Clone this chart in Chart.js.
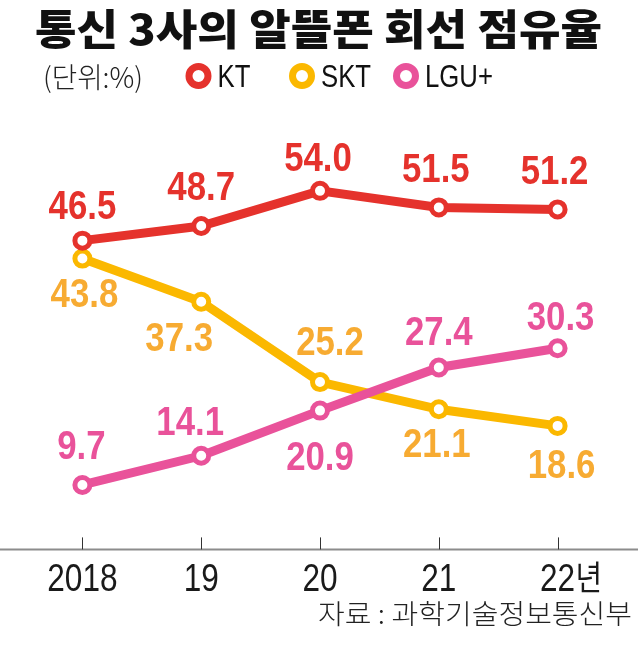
<!DOCTYPE html>
<html>
<head>
<meta charset="utf-8">
<script src="https://cdn.jsdelivr.net/npm/chart.js@4"></script>
<style>
  html, body { margin: 0; padding: 0; background: #fff; }
  #wrap { width: 638px; height: 646px; position: relative; }
</style>
</head>
<body>
<div id="wrap"><canvas id="myChart"></canvas></div>
<script>
// 데이터
const years = ['2018', '19', '20', '21', '22년']
const ktShare = [46.5, 48.7, 54.0, 51.5, 51.2]
const sktShare = [43.8, 37.3, 25.2, 21.1, 18.6]
const lguShare = [9.7, 14.1, 20.9, 27.4, 30.3]

const titleText = '통신 3사의 알뜰폰 회선 점유율'
const unitText = '(단위:%)'
const sourceText = '자료 : 과학기술정보통신부'

const RED = '#e5322c'
const YELLOW = '#fbb800'
const YELLOW_TXT = '#f7ab32'
const PINK = '#e9529a'

const SANS = "'Liberation Sans', Arial, sans-serif"
const KOR = "'Noto Sans CJK KR', 'Noto Sans', sans-serif"

// 값 라벨 위치 (점 중심 기준 오프셋)
const labelOffsets = [
    [[0, -36], [0, -40], [-2, -34], [-3, -39], [-3, -39]],
    [[2, 34], [-22, 35], [10, -41], [-2, 34], [4, 38]],
    [[-1, -40], [-11, -35], [0, 45], [0, -36], [3, -32]]
]

// 가로로 좁힌 글자 (sx) 또는 폭 맞춤 (fitW)
function drawText(ctx, text, x, y, font, color, align, sx, fitW) {
    ctx.save()
    ctx.font = font
    ctx.fillStyle = color
    ctx.textAlign = align
    ctx.textBaseline = 'alphabetic'
    if (fitW) sx = fitW / ctx.measureText(text).width
    ctx.translate(x, y)
    ctx.scale(sx, 1)
    ctx.fillText(text, 0, 0)
    ctx.restore()
}

const decoPlugin = {
    id: 'deco',
    beforeDatasetsDraw(chart) {
        const ctx = chart.ctx
        const x = chart.scales.x
        const y0 = chart.scales.y.getPixelForValue(0)
        ctx.save()
        // 가로 축선
        ctx.strokeStyle = '#8c8c8c'
        ctx.lineWidth = 2
        ctx.beginPath()
        ctx.moveTo(0, y0)
        ctx.lineTo(chart.width, y0)
        ctx.stroke()
        // 눈금
        ctx.strokeStyle = '#333'
        ctx.lineWidth = 1
        years.forEach((yr, i) => {
            const px = Math.round(x.getPixelForValue(i)) + 0.5
            ctx.beginPath()
            ctx.moveTo(px, y0 - 12)
            ctx.lineTo(px, y0)
            ctx.stroke()
        })
        ctx.restore()
        // 눈금 라벨
        years.forEach((yr, i) => {
            const px = x.getPixelForValue(i)
            if (yr.endsWith('년')) {
                const num = yr.slice(0, -1)
                drawText(ctx, num, px, y0 + 42, '39px ' + SANS, '#1a1a1a', 'center', 0.81)
                drawText(ctx, '년', px + 18, y0 + 41, '34px ' + KOR, '#1a1a1a', 'left', 0.85)
            } else {
                drawText(ctx, yr, px, y0 + 42, '39px ' + SANS, '#1a1a1a', 'center', 0.81)
            }
        })
    },
    afterDatasetsDraw(chart) {
        const ctx = chart.ctx
        // 값 라벨
        chart.data.datasets.forEach((ds, di) => {
            const meta = chart.getDatasetMeta(di)
            meta.data.forEach((pt, i) => {
                const off = labelOffsets[di][i]
                drawText(ctx, ds.data[i].toFixed(1), pt.x + off[0], pt.y + off[1] + 14,
                    'bold 40px ' + SANS, ds.labelColor, 'center', 0.87)
            })
        })

        // 제목
        drawText(ctx, titleText, 318.5, 45, '900 42px ' + KOR, '#111', 'center', 1, 567)

        // 단위
        drawText(ctx, unitText, 43, 88, '300 28px ' + KOR, '#222', 'left', 1, 100)

        // 범례
        const legendX = [198.5, 302, 406]
        chart.data.datasets.forEach((ds, di) => {
            ctx.save()
            ctx.strokeStyle = ds.borderColor
            ctx.lineWidth = 7
            ctx.beginPath()
            ctx.arc(legendX[di], 76, 9.5, 0, Math.PI * 2)
            ctx.stroke()
            ctx.restore()
            drawText(ctx, ds.label, legendX[di] + 19, 87, '31px ' + SANS, '#111', 'left', 0.83)
        })

        // 출처
        drawText(ctx, sourceText, 632, 624, '300 27px ' + KOR, '#222', 'right', 1, 314)
    }
}

try {
    const ctx = document.getElementById('myChart').getContext('2d')
    const common = {
        borderWidth: 9,
        pointRadius: 7.5,
        pointBorderWidth: 5,
        pointBackgroundColor: '#fff',
        pointHoverRadius: 7.5,
        tension: 0,
        clip: false
    }
    var myChart = new Chart(ctx, {
        type: 'line',
        data: {
            labels: years,
            datasets: [{
                label: 'KT',
                data: ktShare,
                borderColor: RED,
                pointBorderColor: RED,
                labelColor: RED,
                order: 0,
                ...common
            }, {
                label: 'SKT',
                data: sktShare,
                borderColor: YELLOW,
                pointBorderColor: YELLOW,
                labelColor: YELLOW_TXT,
                order: 2,
                ...common
            }, {
                label: 'LGU+',
                data: lguShare,
                borderColor: PINK,
                pointBorderColor: PINK,
                labelColor: PINK,
                order: 1,
                ...common
            }]
        },
        options: {
            responsive: true,
            maintainAspectRatio: false,
            animation: false,
            events: [],
            layout: {
                padding: {top: 151, bottom: 96.6, left: 23, right: 21}
            },
            plugins: {
                legend: {display: false},
                title: {display: false},
                tooltip: {enabled: false}
            },
            scales: {
                y: {
                    display: false,
                    min: 0,
                    max: 60
                },
                x: {
                    display: false,
                    offset: true
                }
            }
        },
        plugins: [decoPlugin]
    })
} catch (error) {
    console.log(error)
}
</script>
</body>
</html>
